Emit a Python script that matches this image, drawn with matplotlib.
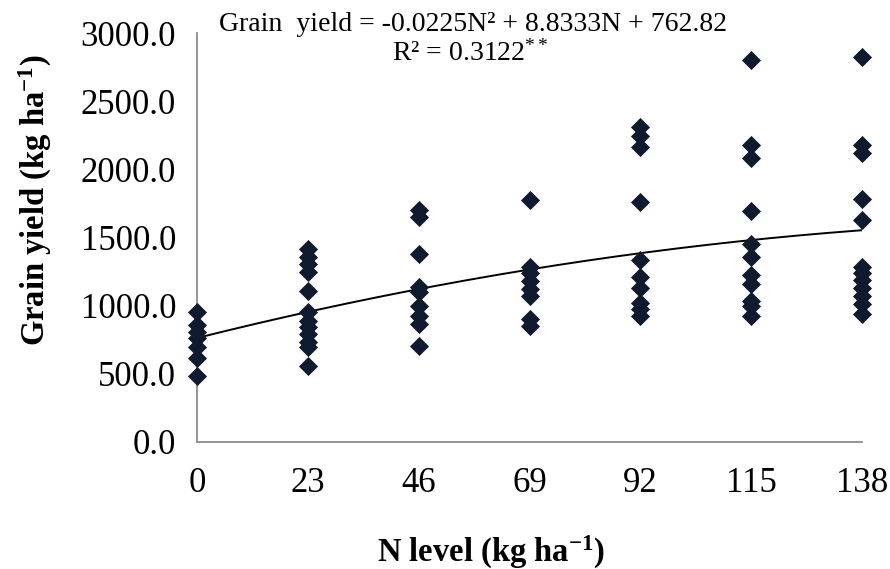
import numpy as np
import matplotlib
matplotlib.use("Agg")
import matplotlib.pyplot as plt

plt.rcParams['font.family'] = ['Liberation Serif', 'DejaVu Serif']
plt.rcParams['mathtext.fontset'] = 'custom'
plt.rcParams['mathtext.rm'] = 'Liberation Serif'
plt.rcParams['mathtext.it'] = 'Liberation Serif:italic'
plt.rcParams['mathtext.bf'] = 'Liberation Serif:bold'

n_levels = [0, 23, 46, 69, 92, 115, 138]
yield_0 = [950, 860, 810, 760, 700, 615, 485]
yield_23 = [1417, 1355, 1306, 1245, 1105, 951, 890, 841, 792, 730, 694, 554]
yield_46 = [1700, 1650, 1380, 1140, 1098, 1000, 926, 865, 706]
yield_69 = [1775, 1285, 1240, 1180, 1120, 1070, 900, 853]
yield_92 = [2310, 2245, 2165, 1762, 1338, 1212, 1130, 1020, 976, 922]
yield_115 = [2800, 2180, 2085, 1695, 1450, 1355, 1225, 1159, 1037, 1000, 922]
yield_138 = [2825, 2175, 2120, 1785, 1630, 1285, 1240, 1190, 1130, 1070, 1012, 939]
groups = [yield_0, yield_23, yield_46, yield_69, yield_92, yield_115, yield_138]

coef_a, coef_b, coef_c = -0.0225, 8.8333, 762.82
y_ticks = [0, 500, 1000, 1500, 2000, 2500, 3000]

W, H = 890, 569
fig = plt.figure(figsize=(W / 100, H / 100), dpi=100)
ax = fig.add_axes([197 / W, 1 - 442 / H, (862 - 197) / W, (442 - 33) / H])

xs = []
ys = []
for n, g in zip(n_levels, groups):
    xs += [n] * len(g)
    ys += g
ax.scatter(xs, ys, marker='D', s=95, color='#0f1a2e', zorder=3, clip_on=False, linewidths=0)

xf = np.linspace(0, 138, 200)
ax.plot(xf, coef_a * xf**2 + coef_b * xf + coef_c, color='black', lw=1.4, zorder=2)

ax.set_xlim(0, 138)
ax.set_ylim(0, 3000)
ax.set_xticks(n_levels)
ax.set_xticklabels([str(v) for v in n_levels])
ax.set_yticks(y_ticks)
ax.set_yticklabels([f"{v:.1f}" for v in y_ticks])
ax.tick_params(length=0, labelsize=25)
ax.tick_params(axis='x', pad=18)
ax.tick_params(axis='y', pad=15)
for s in ['top', 'right']:
    ax.spines[s].set_visible(False)
for s in ['left', 'bottom']:
    ax.spines[s].set_color('#8c8c8c')
    ax.spines[s].set_linewidth(1.3)

fig.text(491 / W, 1 - 552 / H, r'N level (kg ha$^{\mathbf{-1}}$)', fontsize=23.5, fontweight='bold',
         ha='center', va='center')
fig.text(35 / W, 1 - 200 / H, r'Grain yield (kg ha$^{\mathbf{-1}}$)', fontsize=23.5, fontweight='bold',
         ha='center', va='center', rotation=90)

fig.text(473 / W, 1 - 31 / H, 'Grain  yield = -0.0225N² + 8.8333N + 762.82',
         ha='center', va='baseline', fontsize=20)
fig.text(470 / W, 1 - 61 / H, r'R² = 0.3122$^{**}$',
         ha='center', va='baseline', fontsize=20)

fig.savefig('out.png', dpi=100)
